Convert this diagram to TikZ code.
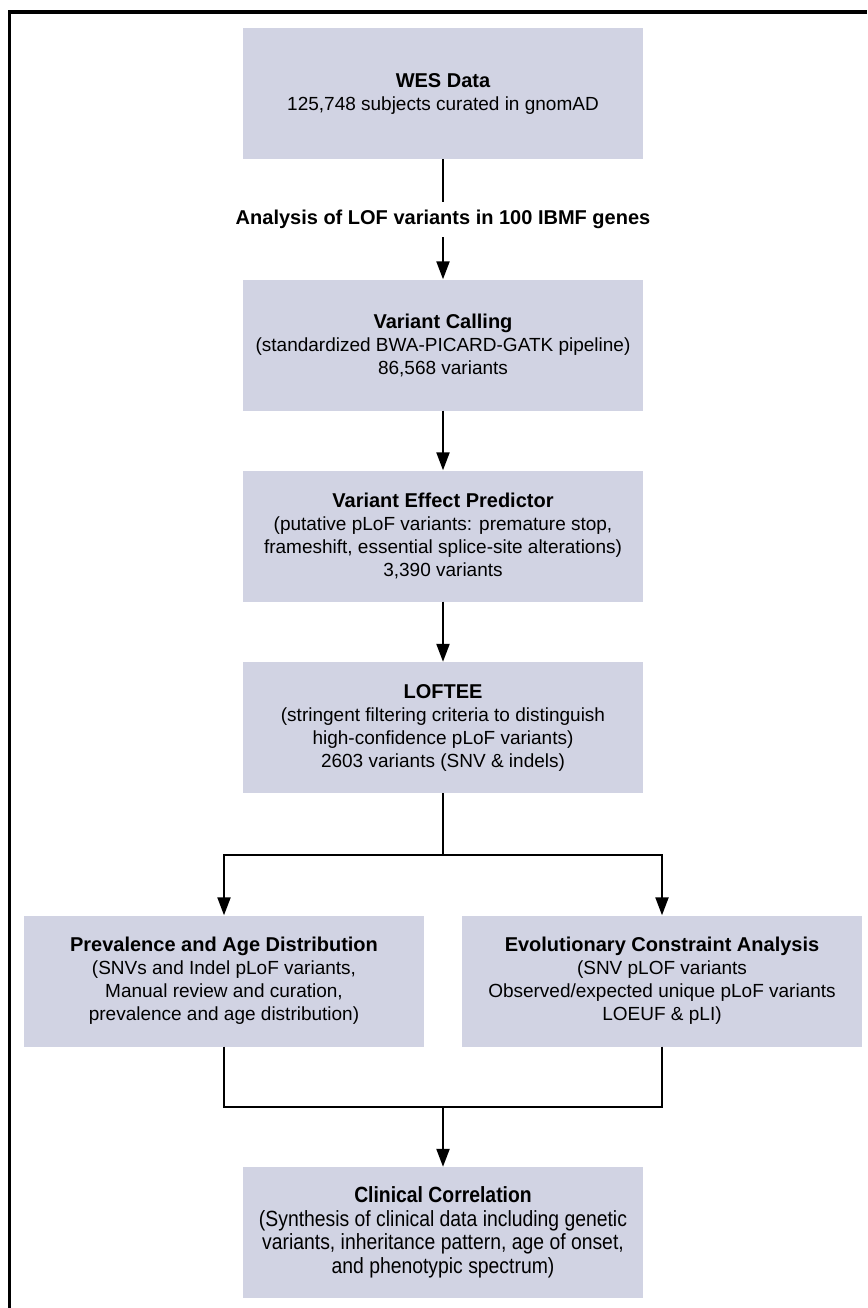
\documentclass[tikz,border=0pt]{standalone}
\usepackage{fontspec}
\setmainfont{Liberation Sans}
\newfontfamily\condfont{Liberation Sans}[FakeStretch=0.88]
\usetikzlibrary{arrows.meta}
\definecolor{boxfill}{RGB}{209,211,227}
\newcommand{\ttl}[1]{{\fontsize{20}{23}\selectfont\bfseries #1}}
\begin{document}
\begin{tikzpicture}[x=1pt,y=-1pt,
  box/.style={fill=boxfill, minimum width=400pt, minimum height=131pt, inner sep=0pt, align=center,
    font=\fontsize{19}{23}\selectfont},
  condbox/.style={box, font=\condfont\fontsize{22}{23.5}\selectfont},
  conn/.style={line width=2.2pt},
  arr/.style={conn, -{Triangle[length=18pt,width=13pt]}},
  frame/.style={line width=3.2pt, line join=miter}
]
\useasboundingbox (0,0) rectangle (867,1308);
\draw[frame] (9.5,1308) -- (9.5,12) -- (867,12);

\node[box] (wes) at (443,93.5) {\ttl{WES Data}\\125,748 subjects curated in gnomAD};
\node[font=\bfseries\fontsize{20}{24}\selectfont, inner xsep=0pt, inner ysep=8pt] (lab) at (443,219.5)
  {Analysis of LOF variants in 100 IBMF genes};
\node[box] (vc) at (443,345) {\ttl{Variant Calling}\\(standardized BWA-PICARD-GATK pipeline)\\86,568 variants};
\node[box] (vep) at (443,536) {\ttl{Variant Effect Predictor}\\(putative pLoF variants: premature stop,\\frameshift, essential splice-site alterations)\\3,390 variants};
\node[box] (loftee) at (443,727.5) {\ttl{LOFTEE}\\(stringent filtering criteria to distinguish\\high-confidence pLoF variants)\\2603 variants (SNV \& indels)};
\node[box] (prev) at (224,981) {\ttl{Prevalence and Age Distribution}\\(SNVs and Indel pLoF variants,\\Manual review and curation,\\prevalence and age distribution)};
\node[box] (evol) at (662,981) {\ttl{Evolutionary Constraint Analysis}\\(SNV pLOF variants\\Observed/expected unique pLoF variants\\LOEUF \& pLI)};
\node[condbox] (clin) at (443,1232.5) {\textbf{Clinical Correlation}\\(Synthesis of clinical data including genetic\\variants, inheritance pattern, age of onset,\\and phenotypic spectrum)};

\coordinate (split) at (443,855);
\coordinate (merge) at (443,1107);

\draw[conn] (wes) -- (lab);
\draw[arr] (lab) -- (vc);
\draw[arr] (vc) -- (vep);
\draw[arr] (vep) -- (loftee);
\draw[conn] (loftee) -- (split);
\draw[arr] (split) -| (prev);
\draw[arr] (split) -| (evol);
\draw[conn] (prev) |- (merge);
\draw[conn] (evol) |- (merge);
\draw[arr] (merge) -- (clin);
\end{tikzpicture}
\end{document}
